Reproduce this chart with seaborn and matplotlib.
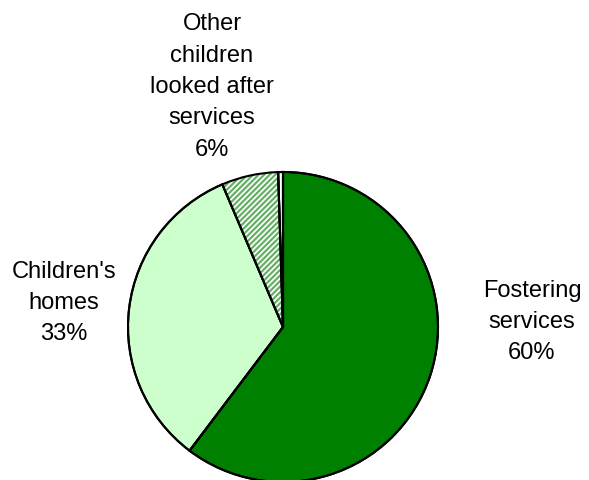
import matplotlib
matplotlib.use("Agg")
import matplotlib.pyplot as plt
import seaborn as sns

sns.set_theme(style="white")
plt.rcParams['font.family'] = ['Liberation Sans', 'DejaVu Sans']
plt.rcParams['hatch.linewidth'] = 1.6

categories = ["Fostering services", "Children's homes",
              "Other children looked after services", "Other"]
values = [60.3, 33.3, 5.9, 0.5]
labels = ["Fostering\nservices\n60%", "Children's\nhomes\n33%",
          "Other\nchildren\nlooked after\nservices\n6%", ""]
colors = ["#008000", "#CCFFCC", "white", "white"]

fig = plt.figure(figsize=(5.89, 4.81), dpi=100)
ax = fig.add_axes([0, 0, 1, 1])

wedges, _ = ax.pie(values, colors=colors, startangle=90, counterclock=False,
                   wedgeprops=dict(edgecolor="black", linewidth=1.5))
# hatched slice
w = wedges[2]
w.set_hatch("//////")
w.set_edgecolor("#66b066")
w.set_linewidth(0)
# outlines on top
ax.pie(values, colors=["none"] * 4, startangle=90, counterclock=False,
       wedgeprops=dict(edgecolor="black", linewidth=1.5, fill=False))

R = 155.0
cx, cy = 283.0, 328.0
W, H = 589.0, 481.0
ax.set_xlim(-cx / R, (W - cx) / R)
ax.set_ylim(-(H - cy) / R, cy / R)
ax.set_aspect("equal")
ax.axis("off")

label_pos = [(532, 322), (64, 303), (212, 87)]
for lab, (px, py) in zip(labels[:3], label_pos):
    ax.text((px - cx) / R, (cy - py) / R, lab, ha="center", va="center",
            fontsize=17, linespacing=1.55, color="black")

fig.savefig("out.png", dpi=100)
